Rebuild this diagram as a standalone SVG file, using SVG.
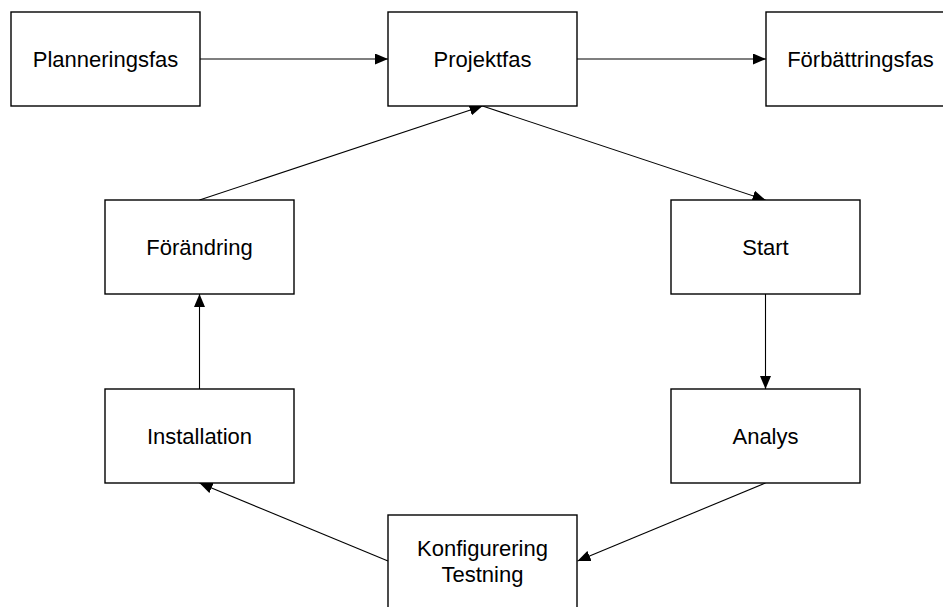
<svg xmlns="http://www.w3.org/2000/svg" width="943" height="607" viewBox="0 0 943 607">
<style>
.box{fill:#fff;stroke:#000;stroke-width:1.4}
.lbl{font-family:"Liberation Sans",Arial,sans-serif;font-size:22px;fill:#000;text-anchor:middle}
.edge{stroke:#000;stroke-width:1.1;fill:none;marker-end:url(#arr)}
</style>
<defs>
<marker id="arr" markerUnits="userSpaceOnUse" markerWidth="13" markerHeight="11" refX="13" refY="5.5" orient="auto">
<path d="M0,0 L13,5.5 L0,11 z" fill="#000"/>
</marker>
</defs>
<rect width="943" height="607" fill="#fff"/>
<g id="connectors">
<line class="edge" x1="200" y1="59" x2="388" y2="59"/>
<line class="edge" x1="577" y1="59" x2="766" y2="59"/>
<line class="edge" x1="482.5" y1="106" x2="765.5" y2="200"/>
<line class="edge" x1="765.5" y1="294" x2="765.5" y2="389"/>
<line class="edge" x1="765.5" y1="483" x2="577.5" y2="561"/>
<line class="edge" x1="388" y1="561" x2="199.5" y2="483"/>
<line class="edge" x1="199.5" y1="389" x2="199.5" y2="294"/>
<line class="edge" x1="199.5" y1="200" x2="482.5" y2="106"/>
</g>
<g id="planneringsfas"><rect class="box" x="11" y="12" width="189" height="94"/><text class="lbl" x="105.5" y="66.5">Planneringsfas</text></g>
<g id="projektfas"><rect class="box" x="388" y="12" width="189" height="94"/><text class="lbl" x="482.5" y="66.5">Projektfas</text></g>
<g id="forbattringsfas"><rect class="box" x="766" y="12" width="189" height="94"/><text class="lbl" x="860.5" y="66.5">Förbättringsfas</text></g>
<g id="forandring"><rect class="box" x="105" y="200" width="189" height="94"/><text class="lbl" x="199.5" y="254.5">Förändring</text></g>
<g id="start"><rect class="box" x="671" y="200" width="189" height="94"/><text class="lbl" x="765.5" y="254.5">Start</text></g>
<g id="installation"><rect class="box" x="105" y="389" width="189" height="94"/><text class="lbl" x="199.5" y="443.5">Installation</text></g>
<g id="analys"><rect class="box" x="671" y="389" width="189" height="94"/><text class="lbl" x="765.5" y="443.5">Analys</text></g>
<g id="konfigurering"><rect class="box" x="388" y="515" width="189" height="94"/><text class="lbl" x="482.5" y="555.5">Konfigurering</text><text class="lbl" x="482.5" y="582">Testning</text></g>
</svg>
